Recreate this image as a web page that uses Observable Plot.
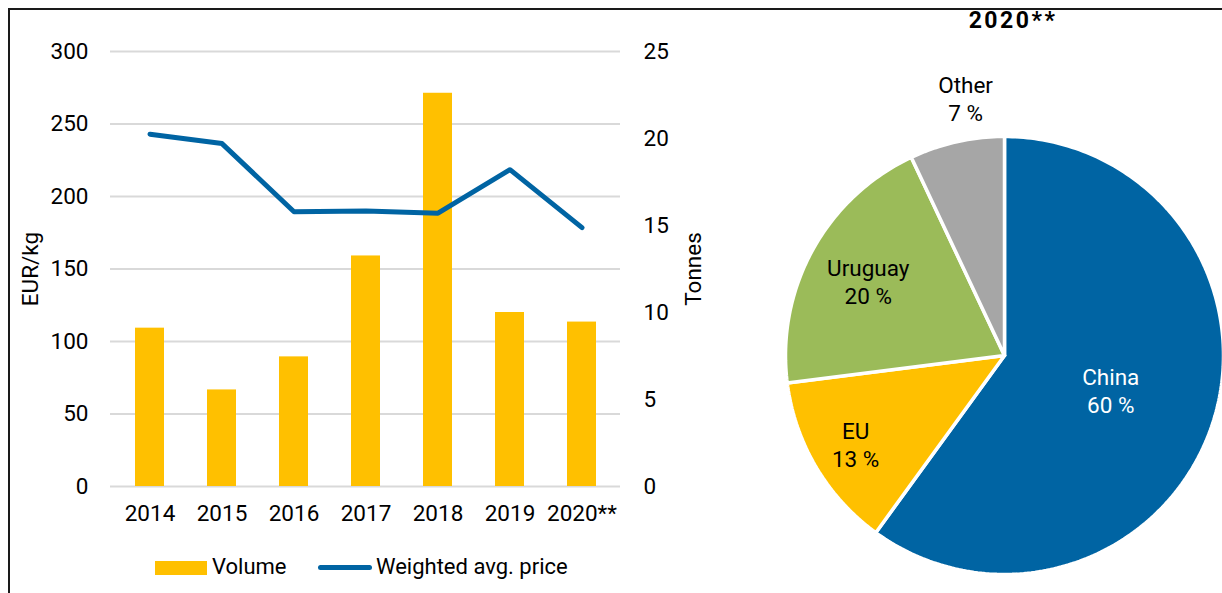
<!DOCTYPE html>
<html>
<head>
<meta charset="utf-8">
<script src="https://cdn.jsdelivr.net/npm/d3@7"></script>
<script src="https://cdn.jsdelivr.net/npm/@observablehq/plot@0.6"></script>
<style>
  html, body { margin: 0; padding: 0; background: #fff; }
  body { width: 1222px; height: 593px; overflow: hidden; position: relative; font-family: Roboto, sans-serif; color: #000; }
  #frame { position: absolute; left: 8px; top: 8px; width: 1230px; height: 600px; border-top: 2px solid #1a1a1a; border-left: 2px solid #1a1a1a; }
  #left { position: absolute; left: 0; top: 0; }
  #pie { position: absolute; left: 700px; top: 40px; }
  #title { position: absolute; left: 913px; width: 200px; top: 7px; text-align: center; font-weight: bold; font-size: 23px; letter-spacing: 2.5px; }
  #legend { position: absolute; top: 0; left: 0; font-size: 22px; }
  #legend > * { position: absolute; white-space: nowrap; }
  .sw-bar { left: 155px; top: 561px; width: 52px; height: 14px; background: #ffc000; }
  .t-vol { left: 212px; top: 554px; }
  .sw-line { left: 318px; top: 565px; width: 54px; height: 5px; background: #0064a3; border-radius: 3px; }
  .t-price { left: 376px; top: 554px; }
</style>
</head>
<body>
<div id="frame"></div>
<div id="left"></div>
<div id="legend"><div class="sw-bar"></div><span class="t-vol">Volume</span><div class="sw-line"></div><span class="t-price">Weighted avg. price</span></div>
<div id="title">2020**</div>
<div id="pie"></div>
<script>
// ---- Data ----
const years = ["2014", "2015", "2016", "2017", "2018", "2019", "2020**"];
const volumeTonnes = [9.1, 5.55, 7.45, 13.25, 22.6, 10.0, 9.45];
const priceEurKg = [243, 236.5, 189.5, 190, 188.5, 218.5, 178.5];
const priceTicks = [0, 50, 100, 150, 200, 250, 300];
const tonnesTicks = [0, 5, 10, 15, 20, 25];

const pieLabels = ["China", "EU", "Uruguay", "Other"];
const pieShares = [60, 13, 20, 7];
const pieColors = ["#0064a3", "#ffc000", "#9bbb59", "#a6a6a6"];

// ---- Left combo chart ----
const FS = 22.5;
const ratio = 300 / 25; // tonnes -> EUR/kg axis
const table = years.map((year, i) => ({year, volume: volumeTonnes[i], price: priceEurKg[i]}));

const left = Plot.plot({
  width: 700,
  height: 540,
  marginLeft: 110,
  marginRight: 80,
  marginTop: 51,
  marginBottom: 54,
  style: {fontFamily: "Roboto, sans-serif", fontSize: FS + "px", color: "#000", background: "transparent", overflow: "visible"},
  x: {domain: years, paddingInner: 0.6, paddingOuter: 0.3, label: null},
  y: {domain: [0, 300], label: null},
  marks: [
    Plot.gridY(priceTicks, {stroke: "#d9d9d9", strokeOpacity: 1, strokeWidth: 2}),
    Plot.barY(table, {x: "year", y: d => d.volume * ratio, fill: "#ffc000"}),
    Plot.line(table, {x: "year", y: "price", stroke: "#0064a3", strokeWidth: 5, strokeLinejoin: "round"}),
    Plot.axisY(priceTicks, {anchor: "left", tickSize: 0, tickPadding: 22, fontSize: FS, label: "EUR/kg", labelAnchor: "center", labelArrow: "none", labelOffset: 88}),
    Plot.axisY(tonnesTicks, {anchor: "right", y: d => d * ratio, tickFormat: d => String(d), tickSize: 0, tickPadding: 23, fontSize: FS, label: "Tonnes", labelAnchor: "center", labelArrow: "none", labelOffset: 80}),
    Plot.axisX({tickSize: 0, tickPadding: 19, fontSize: FS, label: null})
  ]
});
document.getElementById("left").append(left);

// ---- Pie chart ----
const total = d3.sum(pieShares);
const slices = [];
const labels = [];
const labelRadius = {China: 0.51, EU: 0.79, Uruguay: 0.71, Other: 1.19};
const labelTurn = {China: 0, EU: 0, Uruguay: 0, Other: 0.07};
let acc = 0;
pieLabels.forEach((name, i) => {
  const a0 = acc / total * 2 * Math.PI;
  acc += pieShares[i];
  const a1 = acc / total * 2 * Math.PI;
  slices.push({name, x: 0, y: 0});
  const n = Math.max(2, Math.ceil((a1 - a0) / (Math.PI / 180)));
  for (let k = 0; k <= n; k++) {
    const a = a0 + (a1 - a0) * k / n;
    slices.push({name, x: Math.sin(a), y: Math.cos(a)});
  }
  slices.push({name, x: 0, y: 0});
  const am = (a0 + a1) / 2 + labelTurn[name];
  const r = labelRadius[name];
  labels.push({name, x: Math.sin(am) * r, y: Math.cos(am) * r, text: `${name}\n${pieShares[i]} %`});
});

const R = 219, cx = 304, cy = 315;
const pie = Plot.plot({
  width: 522,
  height: 553,
  margin: 0,
  style: {fontFamily: "Roboto, sans-serif", fontSize: FS + "px", background: "transparent"},
  x: {domain: [-1, 1], range: [cx - R, cx + R], axis: null},
  y: {domain: [-1, 1], range: [cy + R, cy - R], axis: null},
  color: {domain: pieLabels, range: pieColors},
  marks: [
    Plot.line(slices, {x: "x", y: "y", z: "name", fill: "name", stroke: "#fff", strokeWidth: 3.5, strokeLinejoin: "miter"}),
    Plot.text(labels, {x: "x", y: "y", text: "text", fontSize: FS, lineHeight: 1.25, fill: d => d.name === "China" ? "#fff" : "#000"})
  ]
});
document.getElementById("pie").append(pie);
</script>
</body>
</html>
